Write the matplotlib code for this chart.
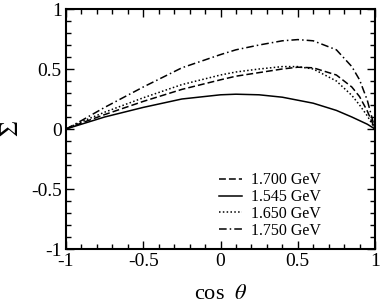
import numpy as np
import matplotlib
matplotlib.use("Agg")
import matplotlib.pyplot as plt
from matplotlib.ticker import MultipleLocator

plt.rcParams['font.family'] = ['Liberation Serif', 'DejaVu Serif']
plt.rcParams['mathtext.fontset'] = 'stix'

cos_theta = [-1.0, -0.9, -0.75, -0.5, -0.25, 0.0, 0.1, 0.25, 0.4, 0.5, 0.6, 0.75, 0.85, 0.9, 0.95, 1.0]
sig_1700 = [0.0, 0.05, 0.12, 0.23, 0.33, 0.41, 0.44, 0.47, 0.50, 0.515, 0.51, 0.45, 0.35, 0.27, 0.15, 0.0]
sig_1545 = [0.0, 0.04, 0.10, 0.18, 0.25, 0.285, 0.29, 0.285, 0.265, 0.24, 0.215, 0.155, 0.10, 0.07, 0.04, 0.0]
sig_1650 = [0.0, 0.06, 0.14, 0.26, 0.37, 0.45, 0.475, 0.50, 0.52, 0.52, 0.50, 0.40, 0.28, 0.20, 0.11, 0.0]
sig_1750 = [0.0, 0.07, 0.18, 0.35, 0.51, 0.62, 0.66, 0.70, 0.735, 0.745, 0.735, 0.66, 0.52, 0.41, 0.24, 0.0]
labels = ['1.700 GeV', '1.545 GeV', '1.650 GeV', '1.750 GeV']

fig = plt.figure(figsize=(3.82, 3.08), dpi=100)
ax = fig.add_axes([66/382, 1-249/308, 309/382, 240/308])

lw = 1.1
ax.plot(cos_theta, sig_1700, color='black', lw=lw, ls=(0, (4.5, 2)), label=labels[0])
ax.plot(cos_theta, sig_1545, color='black', lw=lw, ls='-', label=labels[1])
ax.plot(cos_theta, sig_1650, color='black', lw=lw, ls=(0, (1, 1.5)), label=labels[2])
ax.plot(cos_theta, sig_1750, color='black', lw=lw, ls=(0, (5, 2, 1, 2)), label=labels[3])

ax.set_xlim(-1, 1)
ax.set_ylim(-1, 1)
ax.xaxis.set_minor_locator(MultipleLocator(0.1))
ax.yaxis.set_minor_locator(MultipleLocator(0.1))
ax.set_xticks([-1, -0.5, 0, 0.5, 1])
ax.set_xticklabels(['-1', '-0.5', '0', '0.5', '1'])
ax.set_yticks([-1, -0.5, 0, 0.5, 1])
ax.set_yticklabels(['-1', '-0.5', '0', '0.5', '1'])
ax.tick_params(which='both', direction='in', top=True, right=True, labelsize=14, width=1.0)
ax.tick_params(which='major', length=6, pad=3)
ax.tick_params(which='minor', length=3.5)
for s in ax.spines.values():
    s.set_linewidth(1.5)

ax.set_xlabel(r'cos  $\theta$', fontsize=16, labelpad=11)
ax.set_ylabel(r'$\Sigma$', fontsize=18, labelpad=6)

ax.legend(loc='center left', bbox_to_anchor=(0.46, 0.181), frameon=False, fontsize=11.5,
          handlelength=1.45, handletextpad=0.56, labelspacing=0.05, borderaxespad=0.3)

fig.savefig('out.png', dpi=100)
